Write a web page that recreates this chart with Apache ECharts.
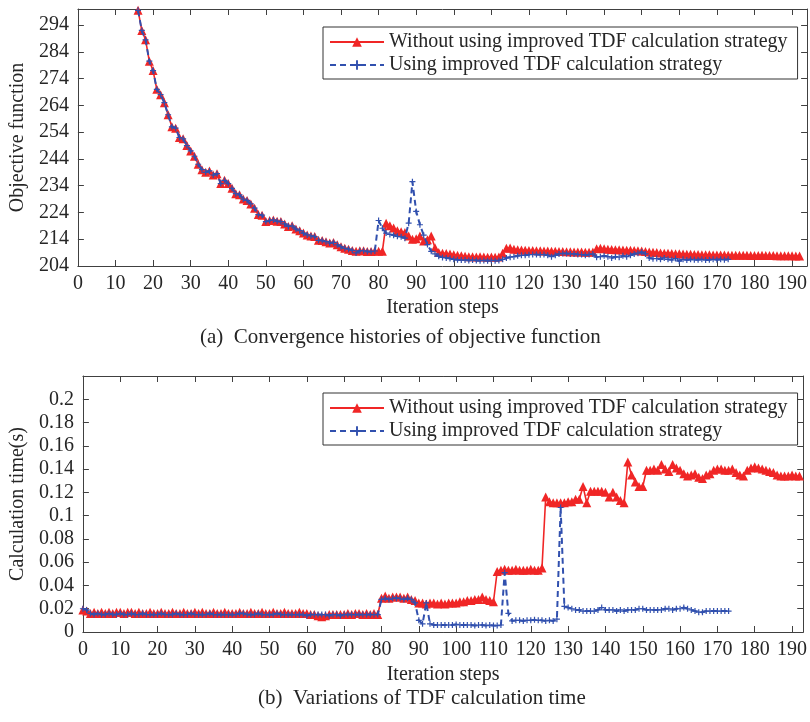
<!DOCTYPE html>
<html><head><meta charset="utf-8">
<script src="https://cdn.jsdelivr.net/npm/echarts@6/dist/echarts.min.js"></script>
<style>html,body{margin:0;padding:0;background:#fff}#c{width:810px;height:722px}</style>
</head><body><div id="c"></div>
<script>
// ---------------- data ----------------
const nameWithout = 'Without using improved TDF calculation strategy';
const nameUsing = 'Using improved TDF calculation strategy';

// (a) objective function, iterations start at 16
const objStart = 16;
const objWithout = [
  299.5, 292, 288.5, 280.5, 277, 270, 268, 265, 260.5, 256,
  255.5, 252, 251.5, 249, 247, 245, 242, 240, 239, 239.5,
  238, 238.5, 234.8, 236, 234.8, 233, 231, 230.6, 229, 228.5,
  227.2, 225.6, 223.2, 223, 220.6, 221, 221.2, 220.7, 220.6, 219.7,
  218.8, 219, 217.8, 217.2, 216.3, 215.6, 215.2, 215, 213.6, 213.5,
  213.1, 212.6, 212.8, 211.9, 211.2, 210.6, 210.3, 209.8, 209.5, 209.7,
  209.7, 209.4, 209.4, 209.6, 209.5, 209.5, 220, 219, 218.2, 217.2,
  216.8, 216.5, 215.2, 214, 214.2, 215.2, 213.3, 213.8, 215.2, 210.8,
  209, 208.8, 208.7, 208.5, 208.2, 208, 207.8, 207.6, 207.5, 207.5,
  207.4, 207.5, 207.4, 207.3, 207.4, 207.3, 207.4, 208.8, 210.6, 210.7,
  210.3, 210.1, 210, 209.9, 209.8, 209.8, 209.7, 209.7, 209.6, 209.6,
  209.5, 209.5, 209.4, 209.4, 209.3, 209.3, 209.2, 209.2, 209.2, 209.1,
  209.1, 209.2, 210.4, 210.6, 210.4, 210.3, 210.2, 210.1, 210.1, 210,
  209.9, 209.9, 209.8, 209.7, 209.6, 209.4, 209.2, 209.1, 209, 208.9,
  208.8, 208.8, 208.7, 208.6, 208.6, 208.5, 208.4, 208.4, 208.3, 208.3,
  208.2, 208.2, 208.2, 208.1, 208.1, 208.1, 208.1, 208, 208, 208,
  208, 208, 208, 207.9, 207.9, 207.9, 208, 207.9, 207.9, 207.9,
  207.8, 207.8, 207.8, 207.8, 207.8, 207.7, 207.7
];
const objUsing = [
  299.5, 292, 288.5, 280.5, 277, 270, 268, 265, 260.5, 256,
  255.5, 252, 251.5, 249, 247, 245, 242, 240, 239, 239.5,
  238, 238.5, 234.8, 236, 234.8, 233, 231, 230.6, 229, 228.5,
  227.2, 225.6, 223.2, 223, 220.6, 221, 221.2, 220.7, 220.6, 219.7,
  218.8, 219, 217.8, 217.2, 216.3, 215.6, 215.2, 215, 213.6, 213.5,
  213.1, 212.6, 212.8, 211.9, 211.2, 210.6, 210.3, 209.8, 208.9, 209.7,
  209.7, 209.4, 209.4, 209.6,
  221, 218.1, 216.3, 215.8, 215.5, 215.1, 214.9, 214.4, 220, 235.5,
  224.4, 219.4, 215.5, 212, 209.5, 208.5, 207.6, 207.2, 207, 206.8,
  206.5, 206.3, 206.2, 206.2, 206.1, 206.2, 206.1, 206, 206.1, 206,
  206.1, 206, 206.1, 206.5, 207, 207.3, 207.5, 207.8, 208, 208,
  208.2, 208.3, 208.3, 208.2, 208.3, 208, 207.5, 208, 208.5, 208.7,
  208.7, 208.5, 208.5, 208.3, 208.3, 208, 208.3, 208.5, 207.3, 207.5,
  207.8, 207.5, 207, 207.5, 207.3, 207.8, 207.5, 208, 208.5, 208.8,
  209.2, 208.5, 207, 206.7, 206.8, 206.5, 207, 206.5, 206.3, 206.8,
  205.8, 206.5, 206.2, 206.5, 206.3, 206.3, 206.5, 206.2, 206.3, 206.5,
  206.3, 206.5, 206.3, 206.5
];

// (b) calculation time, iterations start at 0
const timeStart = 0;
const timeWithout = [
  0.019, 0.018, 0.016, 0.017, 0.016, 0.017, 0.016, 0.017, 0.016, 0.017,
  0.017, 0.016, 0.017, 0.017, 0.016, 0.017, 0.016, 0.016, 0.017, 0.016,
  0.016, 0.017, 0.016, 0.016, 0.017, 0.016, 0.016, 0.017, 0.016, 0.016,
  0.017, 0.016, 0.017, 0.016, 0.016, 0.017, 0.016, 0.016, 0.017, 0.016,
  0.016, 0.016, 0.017, 0.016, 0.016, 0.017, 0.016, 0.016, 0.017, 0.016,
  0.016, 0.017, 0.016, 0.016, 0.017, 0.016, 0.016, 0.016, 0.017, 0.016,
  0.016, 0.015, 0.015, 0.014, 0.013, 0.014, 0.015, 0.015, 0.015, 0.015,
  0.015, 0.016, 0.015, 0.016, 0.016, 0.015, 0.016, 0.015, 0.016, 0.015,
  0.029, 0.031, 0.029, 0.030, 0.030, 0.030, 0.029, 0.030, 0.028, 0.027,
  0.025, 0.025, 0.024, 0.025, 0.025, 0.024, 0.025, 0.024, 0.025, 0.025,
  0.025, 0.026, 0.026, 0.027, 0.027, 0.028, 0.028, 0.030, 0.028, 0.027,
  0.026, 0.052, 0.053, 0.054, 0.053, 0.053, 0.054, 0.053, 0.053, 0.053,
  0.054, 0.053, 0.053, 0.055, 0.116, 0.112, 0.111, 0.111, 0.111, 0.111,
  0.112, 0.112, 0.114, 0.114, 0.125, 0.111, 0.121, 0.121, 0.121, 0.121,
  0.120, 0.116, 0.120, 0.116, 0.113, 0.111, 0.146, 0.135, 0.129, 0.125,
  0.125, 0.139, 0.139, 0.140, 0.139, 0.144, 0.140, 0.138, 0.144, 0.141,
  0.139, 0.136, 0.134, 0.135, 0.136, 0.133, 0.132, 0.135, 0.136, 0.139,
  0.140, 0.140, 0.139, 0.139, 0.140, 0.137, 0.135, 0.134, 0.139, 0.141,
  0.142, 0.141, 0.140, 0.139, 0.138, 0.137, 0.135, 0.134, 0.134, 0.134,
  0.135, 0.134, 0.134
];
const timeUsing = [
  0.020, 0.019, 0.016, 0.015, 0.016, 0.015, 0.015, 0.016, 0.015, 0.015,
  0.016, 0.015, 0.015, 0.016, 0.015, 0.015, 0.016, 0.015, 0.015, 0.015,
  0.015, 0.016, 0.015, 0.015, 0.015, 0.016, 0.015, 0.015, 0.015, 0.016,
  0.015, 0.015, 0.015, 0.015, 0.016, 0.015, 0.015, 0.015, 0.015, 0.015,
  0.015, 0.015, 0.016, 0.016, 0.015, 0.015, 0.015, 0.016, 0.015, 0.015,
  0.015, 0.015, 0.016, 0.015, 0.015, 0.015, 0.015, 0.015, 0.015, 0.015,
  0.014, 0.015, 0.015, 0.015, 0.015, 0.015, 0.014, 0.015, 0.015, 0.014,
  0.015, 0.015, 0.015, 0.015, 0.015, 0.015, 0.015, 0.015, 0.015, 0.015,
  0.028, 0.029, 0.028, 0.029, 0.029, 0.029, 0.028, 0.029, 0.028, 0.025,
  0.010, 0.007, 0.025, 0.007, 0.006, 0.006, 0.006, 0.006, 0.006, 0.006,
  0.0065, 0.006, 0.006, 0.006, 0.006, 0.0055, 0.006, 0.006, 0.0055, 0.006,
  0.0055, 0.0055, 0.006, 0.051, 0.016, 0.0095, 0.010, 0.010, 0.0095, 0.010,
  0.010, 0.0105, 0.010, 0.010, 0.0095, 0.010, 0.0095, 0.011, 0.107, 0.022,
  0.021, 0.020, 0.019, 0.019, 0.018, 0.018, 0.018, 0.018, 0.019, 0.021,
  0.019, 0.019, 0.019, 0.018, 0.019, 0.018, 0.019, 0.019, 0.019, 0.020,
  0.020, 0.019, 0.019, 0.019, 0.019, 0.019, 0.020, 0.020, 0.019, 0.020,
  0.020, 0.021, 0.020, 0.019, 0.018, 0.017, 0.017, 0.018, 0.018, 0.018,
  0.018, 0.018, 0.018, 0.018
];

const xTicks = [0, 10, 20, 30, 40, 50, 60, 70, 80, 90, 100, 110, 120, 130, 140, 150, 160, 170, 180, 190];
const objTicks = [204, 214, 224, 234, 244, 254, 264, 274, 284, 294];
const timeTicks = [0, 0.02, 0.04, 0.06, 0.08, 0.1, 0.12, 0.14, 0.16, 0.18, 0.2];
const captionA = '(a)  Convergence histories of objective function';
const captionB = '(b)  Variations of TDF calculation time';

// ---------------- chart ----------------
const FONT = 'Liberation Serif';
const TXT = '#262626';
const AX = '#404040';
const RED = '#f02626';
const BLUE = '#3150ae';
const PLUS = 'path://M0,4L10,4L10,6L0,6Z M4,0L6,0L6,10L4,10Z';

function pairs(start, arr) { return arr.map((v, k) => [start + k, v]); }

function xAxisCfg(grid, pos, max, withLabels, gap) {
  return {
    type: 'value', gridIndex: grid, position: pos, min: 0, max: max,
    axisLine: { show: true, onZero: false, lineStyle: { color: AX, width: 1 } },
    axisTick: { show: true, inside: true, length: 6, customValues: xTicks, lineStyle: { color: AX } },
    axisLabel: { show: withLabels, customValues: xTicks, fontSize: 20, fontFamily: FONT, color: TXT, margin: 8 },
    splitLine: { show: false },
    name: withLabels ? 'Iteration steps' : '',
    nameLocation: 'middle', nameGap: gap || 0,
    nameTextStyle: { fontSize: 20, fontFamily: FONT, color: TXT }
  };
}
function yAxisCfg(grid, pos, min, max, ticks, withLabels, name, gap) {
  return {
    type: 'value', gridIndex: grid, position: pos, min: min, max: max,
    axisLine: { show: true, onZero: false, lineStyle: { color: AX, width: 1 } },
    axisTick: { show: true, inside: true, length: 6, customValues: ticks, lineStyle: { color: AX } },
    axisLabel: { show: withLabels, customValues: ticks, fontSize: 20, fontFamily: FONT, color: TXT, margin: 9 },
    splitLine: { show: false },
    name: withLabels ? name : '',
    nameLocation: 'middle', nameGap: gap, nameRotate: 90,
    nameTextStyle: { fontSize: 20, fontFamily: FONT, color: TXT }
  };
}
function legendCfg(top) {
  return {
    data: [nameWithout, nameUsing], orient: 'vertical', left: 323, top: top,
    itemWidth: 54, itemHeight: 12, itemGap: 3, padding: [5, 10, 4, 6],
    borderColor: '#333', borderWidth: 1, backgroundColor: '#fff', selectedMode: false,
    textStyle: { fontSize: 20, fontFamily: FONT, color: TXT }
  };
}
function redSeries(xi, yi, data) {
  return { type: 'line', name: nameWithout, xAxisIndex: xi, yAxisIndex: yi, data: data,
    symbol: 'triangle', symbolSize: 9, showAllSymbol: true, z: 2,
    itemStyle: { color: RED }, lineStyle: { color: RED, width: 1.6 } };
}
function blueSeries(xi, yi, data) {
  return { type: 'line', name: nameUsing, xAxisIndex: xi, yAxisIndex: yi, data: data,
    symbol: PLUS, symbolSize: 6, showAllSymbol: true, z: 3,
    itemStyle: { color: BLUE }, lineStyle: { color: BLUE, width: 2, type: [6, 4] } };
}

const chart = echarts.init(document.getElementById('c'), null, { renderer: 'canvas' });
chart.setOption({
  animation: false,
  backgroundColor: '#fff',
  grid: [
    { left: 75, top: 9, width: 736, height: 257 },
    { left: 80, top: 376, width: 730, height: 256 }
  ],
  xAxis: [
    xAxisCfg(0, 'bottom', 194, true, 32), xAxisCfg(0, 'top', 194, false),
    xAxisCfg(1, 'bottom', 193, true, 33), xAxisCfg(1, 'top', 193, false)
  ],
  yAxis: [
    yAxisCfg(0, 'left', 204, 300, objTicks, true, 'Objective function', 41),
    yAxisCfg(0, 'right', 204, 300, objTicks, false, '', 0),
    yAxisCfg(1, 'left', 0, 0.22, timeTicks, true, 'Calculation time(s)', 44),
    yAxisCfg(1, 'right', 0, 0.22, timeTicks, false, '', 0)
  ],
  legend: [legendCfg(27), legendCfg(393)],
  series: [
    redSeries(0, 0, pairs(objStart, objWithout)),
    blueSeries(0, 0, pairs(objStart, objUsing)),
    redSeries(2, 2, pairs(timeStart, timeWithout)),
    blueSeries(2, 2, pairs(timeStart, timeUsing))
  ],
  graphic: [
    { type: 'text', left: 200, top: 327, style: { text: captionA, fontSize: 21, fontFamily: FONT, fill: TXT } },
    { type: 'text', left: 258, top: 688, style: { text: captionB, fontSize: 21, fontFamily: FONT, fill: TXT } }
  ]
});
</script></body></html>
